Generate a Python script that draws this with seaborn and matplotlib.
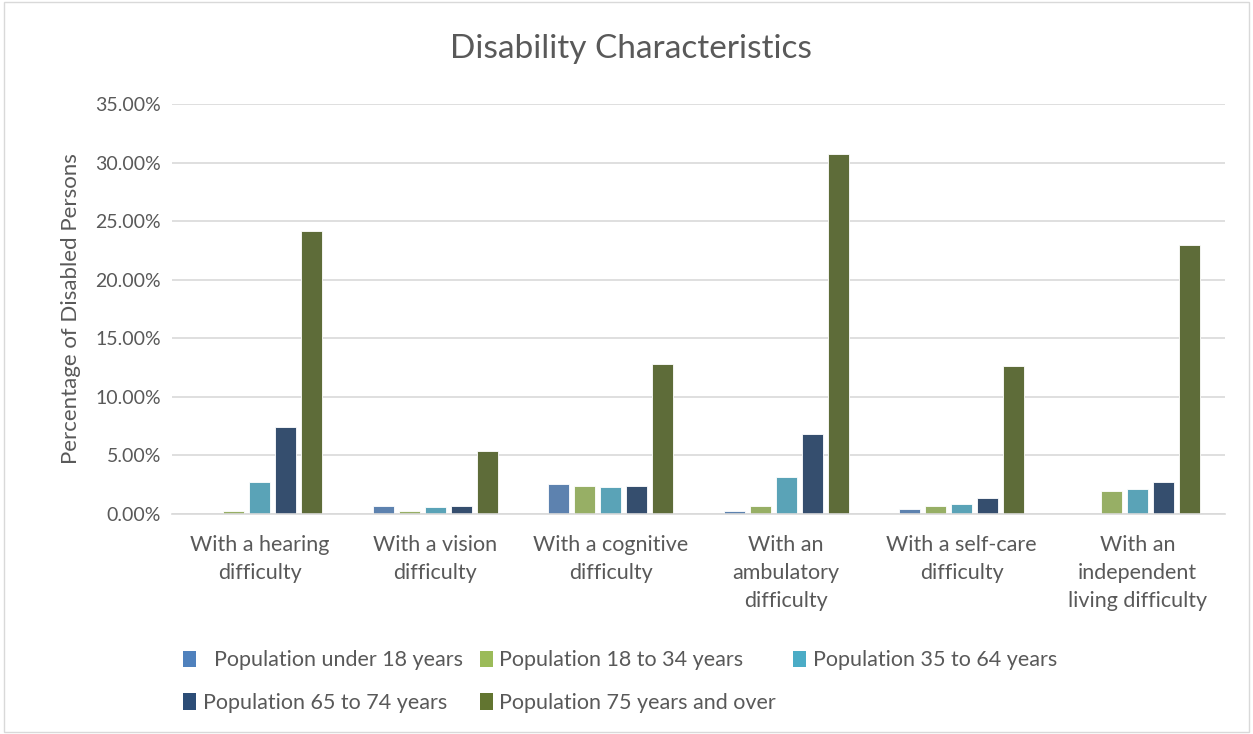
import matplotlib
matplotlib.use("Agg")
import matplotlib.pyplot as plt
from matplotlib.patches import Patch, Rectangle
from matplotlib.ticker import FuncFormatter
import seaborn as sns
import pandas as pd

categories = [
    "With a hearing\ndifficulty",
    "With a vision\ndifficulty",
    "With a cognitive\ndifficulty",
    "With an\nambulatory\ndifficulty",
    "With a self-care\ndifficulty",
    "With an\nindependent\nliving difficulty",
]
groups = [
    "Population under 18 years",
    "Population 18 to 34 years",
    "Population 35 to 64 years",
    "Population 65 to 74 years",
    "Population 75 years and over",
]
under_18 = [0.02, 0.68, 2.6, 0.28, 0.40, 0.0]
age_18_34 = [0.28, 0.28, 2.4, 0.68, 0.68, 2.0]
age_35_64 = [2.7, 0.60, 2.3, 3.2, 0.88, 2.1]
age_65_74 = [7.4, 0.68, 2.4, 6.8, 1.4, 2.7]
age_75_up = [24.2, 5.4, 12.8, 30.7, 12.6, 23.0]

colors = ["#4F81BD", "#9BBB59", "#4BACC6", "#2C4D77", "#627530"]
text_gray = "#595959"

series = [under_18, age_18_34, age_35_64, age_65_74, age_75_up]
rows = []
for g, vals in zip(groups, series):
    for c, v in zip(categories, vals):
        rows.append({"category": c, "group": g, "value": v})
df = pd.DataFrame(rows)

sns.set_theme(style="white")
plt.rcParams["font.family"] = ["Lato", "DejaVu Sans"]

fig = plt.figure(figsize=(12.53, 7.34), dpi=100)
ax = fig.add_axes([172 / 1253, 1 - 514 / 734, 1053 / 1253, 410 / 734])

sns.barplot(data=df, x="category", y="value", hue="group", order=categories,
            hue_order=groups, palette=colors, width=0.74, gap=0.2,
            edgecolor="white", linewidth=0.6, ax=ax, legend=False)

ax.set_ylim(0, 35)
ax.set_yticks([0, 5, 10, 15, 20, 25, 30, 35])
ax.yaxis.set_major_formatter(FuncFormatter(lambda v, p: f"{v:.2f}%"))
ax.grid(axis="y", color="#D9D9D9", linewidth=1.2)
ax.set_axisbelow(True)
for s in ["top", "right", "left"]:
    ax.spines[s].set_visible(False)
ax.spines["bottom"].set_color("#D9D9D9")
ax.spines["bottom"].set_linewidth(1.2)
ax.tick_params(axis="y", length=0, labelsize=14, colors=text_gray, pad=8)
ax.tick_params(axis="x", length=0, labelsize=15.5, colors=text_gray, pad=15)
ax.set_xlabel("")
ax.set_ylabel("Percentage of Disabled Persons", fontsize=16, color=text_gray, labelpad=10)
for lbl in ax.get_xticklabels():
    lbl.set_linespacing(1.5)
    lbl.set_verticalalignment("top")

fig.text(631 / 1253, 1 - 49 / 734, "Disability Characteristics", ha="center", va="center",
         fontsize=24, color=text_gray)

# legend is filled column by column, so reorder to get Excel's row order
order = [0, 3, 1, 4, 2]
labels = ["  " + groups[0]] + groups[1:]
handles = [Patch(facecolor=c, edgecolor="none") for c in colors]
leg = fig.legend([handles[i] for i in order], [labels[i] for i in order], ncol=3,
                 loc="upper left", bbox_to_anchor=(164 / 1253, 1 - 631 / 734), frameon=False,
                 fontsize=15.5, handlelength=0.6, handleheight=0.8, handletextpad=0.3,
                 columnspacing=0.8, labelspacing=1.05)
for t in leg.get_texts():
    t.set_color(text_gray)

fig.patches.append(Rectangle((0.003, 0.003), 0.994, 0.994, transform=fig.transFigure,
                             fill=False, edgecolor="#D9D9D9", linewidth=1))

fig.savefig("out.png", dpi=100)
